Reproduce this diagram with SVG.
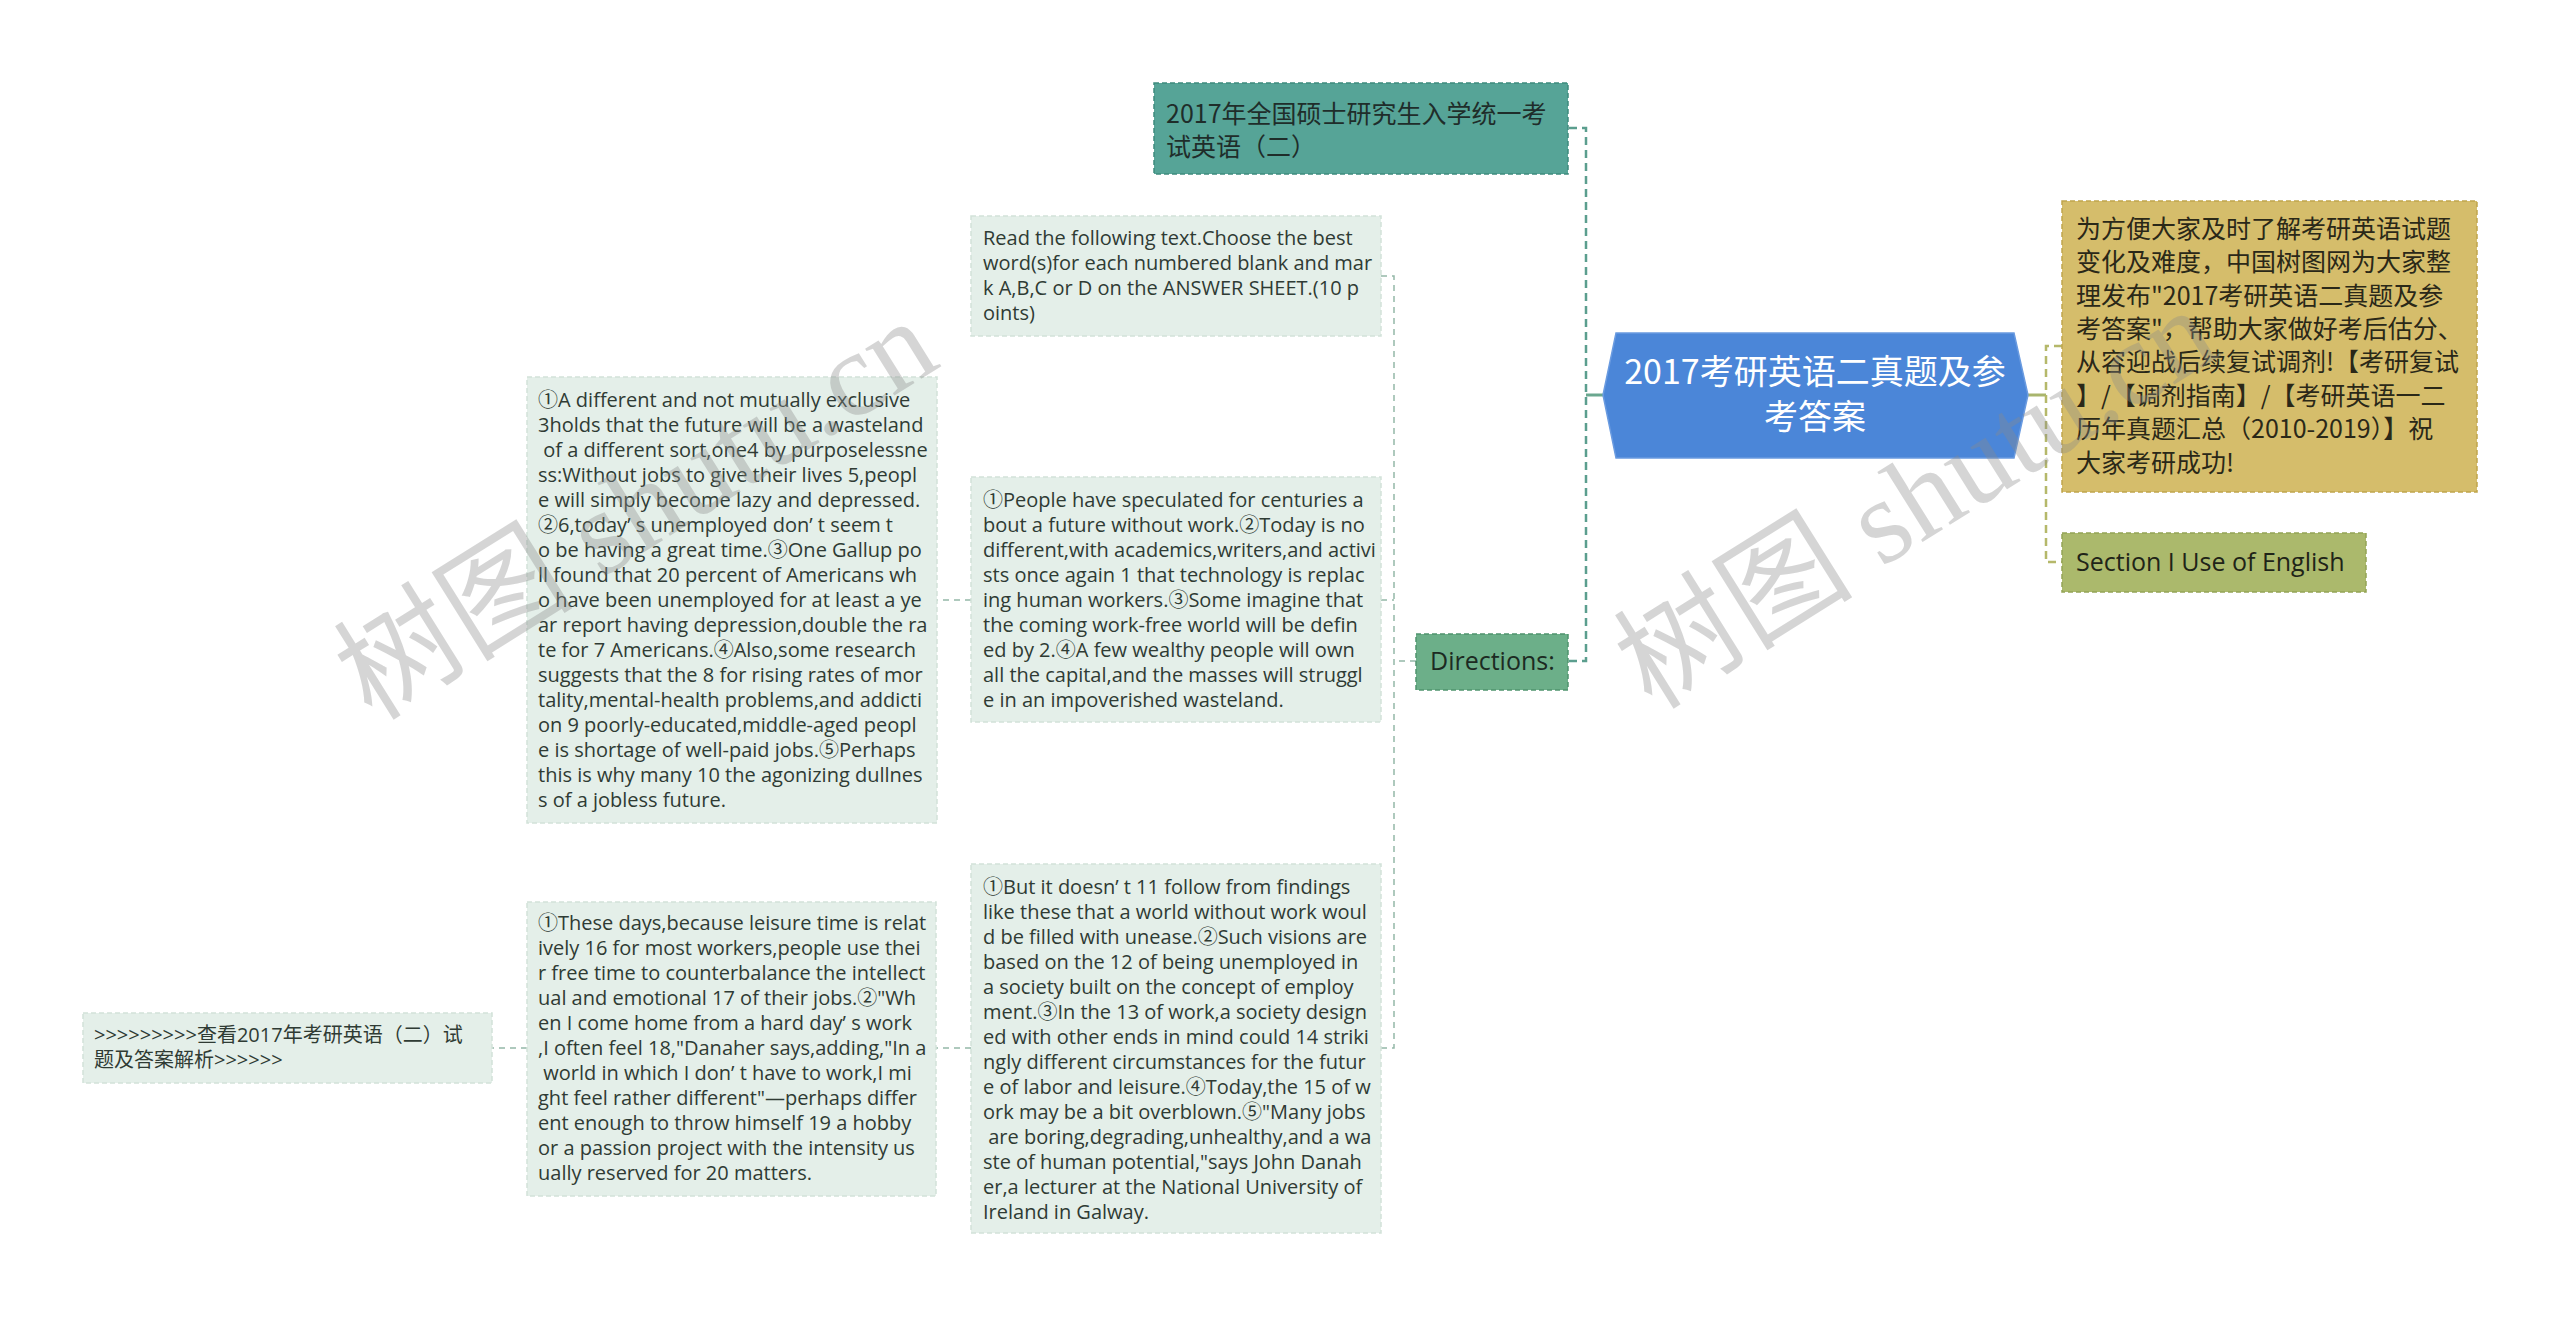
<svg xmlns="http://www.w3.org/2000/svg" width="2560" height="1317" viewBox="0 0 2560 1317">
<style>
.lt{fill:#e4efe9;stroke:#d2e2d9;stroke-width:1.5;stroke-dasharray:5 3}
.t{font-family:"Open Sans","Noto Sans CJK SC",sans-serif;font-size:20px;fill:#2f3b34}
.cj{font-family:"Noto Sans CJK SC","Open Sans",sans-serif}
.big{font-size:25px}
.c1{fill:none;stroke:#5b9e8e;stroke-width:2.5;stroke-dasharray:8 5}
.c2{fill:none;stroke:#94b8a8;stroke-width:1.5;stroke-dasharray:6 5}
.c3{fill:none;stroke:#b5b86a;stroke-width:2.5;stroke-dasharray:8 5}
.s1{fill:none;stroke:#6aa78f;stroke-width:3}
.s2{fill:none;stroke:#a9b56d;stroke-width:3}
.wm{font-family:"Liberation Serif","Noto Sans CJK SC",serif;font-size:120px;fill:#8a8a8a;opacity:.35}
</style>
<rect width="2560" height="1317" fill="#ffffff"/>
<g id="connectors">
<path class="s1" d="M1603,395H1586"/>
<path class="c1" d="M1569,128H1586V661H1568"/>
<path class="c2" d="M1416,661H1394M1381,276H1394V1048H1381M1381,600H1394"/>
<path class="c2" d="M971,600H937M971,1048H936M527,1048H492"/>
<path class="s2" d="M2028,395H2046"/>
<path class="c3" d="M2062,346H2046V562H2062"/>
</g>
<g id="root">
<polygon points="1616,333 2014,333 2028,395 2014,458 1616,458 1603,395" fill="#4b86d8" stroke="#6a9be0" stroke-width="1.5"/>
<text class="cj" style="font-size:34px" fill="#ffffff" text-anchor="middle"><tspan x="1815" y="384">2017考研英语二真题及参</tspan><tspan x="1815" y="429">考答案</tspan></text>
</g>
<g id="title">
<rect x="1154" y="83" width="414" height="91" fill="#56a497" stroke="#3e8b7d" stroke-width="1.5" stroke-dasharray="5 3"/>
<text class="cj big" fill="#1f2d2a"><tspan x="1166" y="123">2017年全国硕士研究生入学统一考</tspan><tspan x="1166" y="156">试英语（二）</tspan></text>
</g>
<g id="directions">
<rect x="1416" y="634" width="152" height="56" fill="#6caf89" stroke="#4f946d" stroke-width="1.5" stroke-dasharray="5 3"/>
<text class="t big" style="fill:#1c2a22" x="1430" y="670">Directions:</text>
</g>
<g id="intro">
<rect x="2062" y="201" width="415" height="291" fill="#d5bd6b" stroke="#c0a54c" stroke-width="1.5" stroke-dasharray="5 3"/>
<text class="cj big" fill="#2a2818"><tspan x="2076" y="238">为方便大家及时了解考研英语试题</tspan><tspan x="2076" y="271">变化及难度，中国树图网为大家整</tspan><tspan x="2076" y="305">理发布"2017考研英语二真题及参</tspan><tspan x="2076" y="338">考答案"，帮助大家做好考后估分、</tspan><tspan x="2076" y="371">从容迎战后续复试调剂!【考研复试</tspan><tspan x="2076" y="405">】/【调剂指南】/【考研英语一二</tspan><tspan x="2076" y="438">历年真题汇总（2010-2019）】祝</tspan><tspan x="2076" y="472">大家考研成功!</tspan></text>
</g>
<g id="section">
<rect x="2062" y="533" width="304" height="59" fill="#abb96c" stroke="#94a455" stroke-width="1.5" stroke-dasharray="5 3"/>
<text class="t big" style="fill:#1f2418" x="2076" y="571">Section I Use of English</text>
</g>
<g id="read">
<rect class="lt" x="971" y="216" width="410" height="120"/>
<text class="t"><tspan x="983" y="245">Read the following text.Choose the best</tspan><tspan x="983" y="270">word(s)for each numbered blank and mar</tspan><tspan x="983" y="295">k A,B,C or D on the ANSWER SHEET.(10 p</tspan><tspan x="983" y="320">oints)</tspan></text>
</g>
<g id="para1">
<rect class="lt" x="971" y="477" width="410" height="245"/>
<text class="t"><tspan x="983" y="507">①People have speculated for centuries a</tspan><tspan x="983" y="532">bout a future without work.②Today is no</tspan><tspan x="983" y="557">different,with academics,writers,and activi</tspan><tspan x="983" y="582">sts once again 1 that technology is replac</tspan><tspan x="983" y="607">ing human workers.③Some imagine that</tspan><tspan x="983" y="632">the coming work-free world will be defin</tspan><tspan x="983" y="657">ed by 2.④A few wealthy people will own</tspan><tspan x="983" y="682">all the capital,and the masses will struggl</tspan><tspan x="983" y="707">e in an impoverished wasteland.</tspan></text>
</g>
<g id="para2">
<rect class="lt" x="527" y="377" width="410" height="446"/>
<text class="t"><tspan x="538" y="407">①A different and not mutually exclusive</tspan><tspan x="538" y="432">3holds that the future will be a wasteland</tspan><tspan x="538" y="457">&#160;of a different sort,one4 by purposelessne</tspan><tspan x="538" y="482">ss:Without jobs to give their lives 5,peopl</tspan><tspan x="538" y="507">e will simply become lazy and depressed.</tspan><tspan x="538" y="532">②6,today’ s unemployed don’ t seem t</tspan><tspan x="538" y="557">o be having a great time.③One Gallup po</tspan><tspan x="538" y="582">ll found that 20 percent of Americans wh</tspan><tspan x="538" y="607">o have been unemployed for at least a ye</tspan><tspan x="538" y="632">ar report having depression,double the ra</tspan><tspan x="538" y="657">te for 7 Americans.④Also,some research</tspan><tspan x="538" y="682">suggests that the 8 for rising rates of mor</tspan><tspan x="538" y="707">tality,mental-health problems,and addicti</tspan><tspan x="538" y="732">on 9 poorly-educated,middle-aged peopl</tspan><tspan x="538" y="757">e is shortage of well-paid jobs.⑤Perhaps</tspan><tspan x="538" y="782">this is why many 10 the agonizing dullnes</tspan><tspan x="538" y="807">s of a jobless future.</tspan></text>
</g>
<g id="para3">
<rect class="lt" x="971" y="864" width="410" height="369"/>
<text class="t"><tspan x="983" y="894">①But it doesn’ t 11 follow from findings</tspan><tspan x="983" y="919">like these that a world without work woul</tspan><tspan x="983" y="944">d be filled with unease.②Such visions are</tspan><tspan x="983" y="969">based on the 12 of being unemployed in</tspan><tspan x="983" y="994">a society built on the concept of employ</tspan><tspan x="983" y="1019">ment.③In the 13 of work,a society design</tspan><tspan x="983" y="1044">ed with other ends in mind could 14 striki</tspan><tspan x="983" y="1069">ngly different circumstances for the futur</tspan><tspan x="983" y="1094">e of labor and leisure.④Today,the 15 of w</tspan><tspan x="983" y="1119">ork may be a bit overblown.⑤"Many jobs</tspan><tspan x="983" y="1144">&#160;are boring,degrading,unhealthy,and a wa</tspan><tspan x="983" y="1169">ste of human potential,"says John Danah</tspan><tspan x="983" y="1194">er,a lecturer at the National University of</tspan><tspan x="983" y="1219">Ireland in Galway.</tspan></text>
</g>
<g id="para4">
<rect class="lt" x="527" y="902" width="409" height="294"/>
<text class="t"><tspan x="538" y="930">①These days,because leisure time is relat</tspan><tspan x="538" y="955">ively 16 for most workers,people use thei</tspan><tspan x="538" y="980">r free time to counterbalance the intellect</tspan><tspan x="538" y="1005">ual and emotional 17 of their jobs.②"Wh</tspan><tspan x="538" y="1030">en I come home from a hard day’ s work</tspan><tspan x="538" y="1055">,I often feel 18,"Danaher says,adding,"In a</tspan><tspan x="538" y="1080">&#160;world in which I don’ t have to work,I mi</tspan><tspan x="538" y="1105">ght feel rather different"—perhaps differ</tspan><tspan x="538" y="1130">ent enough to throw himself 19 a hobby</tspan><tspan x="538" y="1155">or a passion project with the intensity us</tspan><tspan x="538" y="1180">ually reserved for 20 matters.</tspan></text>
</g>
<g id="link">
<rect class="lt" x="83" y="1013" width="409" height="70"/>
<text class="t"><tspan x="94" y="1042">&gt;&gt;&gt;&gt;&gt;&gt;&gt;&gt;&gt;查看2017年考研英语（二）试</tspan><tspan x="94" y="1067">题及答案解析&gt;&gt;&gt;&gt;&gt;&gt;</tspan></text>
</g>
<g id="watermarks">
<text class="wm" x="372" y="722" transform="rotate(-32 372 722)">树图 shutu.cn</text>
<text class="wm" x="1652" y="711" transform="rotate(-32 1652 711)">树图 shutu.cn</text>
</g>
</svg>
